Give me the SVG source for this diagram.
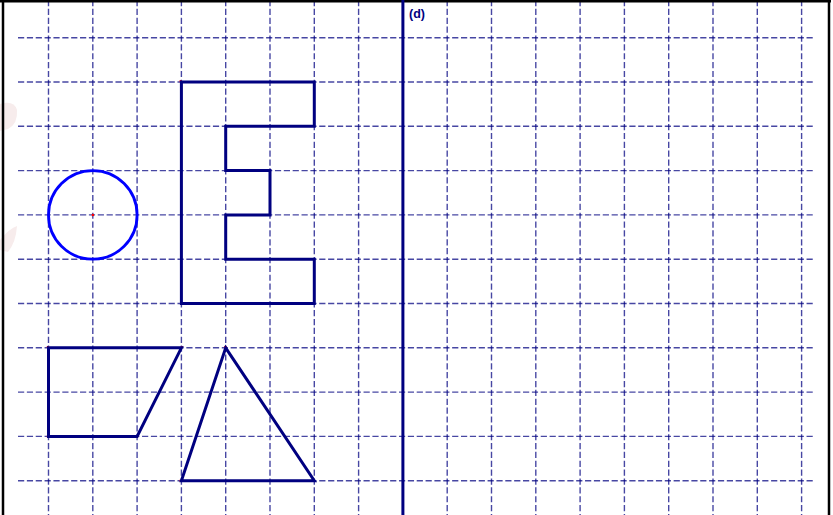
<svg xmlns="http://www.w3.org/2000/svg" width="833" height="515" viewBox="0 0 833 515">
<style>
.g{stroke:#000080;stroke-opacity:0.72;stroke-width:1.4;stroke-dasharray:6.2 2.66;fill:none}
.s{stroke:#000080;stroke-width:3;fill:none;stroke-linejoin:miter}
.frame{stroke:#000;stroke-width:2.5;fill:none}
.pt{fill:#ff0000}
</style>
<rect width="833" height="515" fill="#fff"/>
<g id="watermark" fill="#f7ecec">
<path d="M0 104 Q14 100 17 110 Q18 124 8 129 L0 131 Z"/>
<path d="M0 250 L0 240 Q10 228 17 226 Q16 242 8 252 Z"/>
</g>
<g id="grid">
<g class="g">
<path d="M48.5 0V515M92.8 0V515M137.1 0V515M181.4 0V515M225.7 0V515M270 0V515M314.3 0V515M358.6 0V515M447.2 0V515M491.5 0V515M535.8 0V515M580.1 0V515M624.4 0V515M668.7 0V515M713 0V515M757.3 0V515M801.6 0V515"/>
<path d="M18 37.7H813M18 82H813M18 126.3H813M18 170.6H813M18 214.9H813M18 259.2H813M18 303.5H813M18 347.8H813M18 392.1H813M18 436.4H813M18 480.7H813"/>
</g>
</g>
<g id="frame" class="frame">
<path d="M0 1.2H831"/>
<path d="M3 1V515"/>
<path d="M829 1V515"/>
</g>
<g id="axis">
<path d="M402.9 0V515" stroke="#000080" stroke-width="3"/>
<text x="409" y="17.5" font-family="Liberation Sans, Arial, sans-serif" font-size="12.5" font-weight="bold" fill="#000080">(d)</text>
</g>
<g id="points">
<rect class="pt" x="91.8" y="213.9" width="2.2" height="2.2"/>
<rect class="pt" x="179.6" y="80.2" width="2" height="2"/>
<rect class="pt" x="46.8" y="346" width="2" height="2"/>
<rect class="pt" x="180.8" y="346" width="2" height="2"/>
<rect class="pt" x="46.8" y="435.4" width="2" height="2"/>
<rect class="pt" x="136.2" y="435.4" width="2" height="2"/>
<rect class="pt" x="224.2" y="346" width="2.6" height="2"/>
<rect class="pt" x="179.6" y="479.7" width="2" height="2"/>
</g>
<g id="circle">
<circle cx="92.8" cy="214.9" r="44.3" fill="none" stroke="#0000ff" stroke-width="2.8"/>
</g>
<g id="shape-E">
<path class="s" d="M181.4 82H314.3V126.3H225.7V170.6H270V214.9H225.7V259.2H314.3V303.5H181.4Z"/>
</g>
<g id="parallelogram">
<path class="s" d="M48.5 347.8H181.4L137.1 436.4H48.5Z"/>
</g>
<g id="triangle">
<path class="s" d="M225.7 347.8L314.3 480.7H181.4Z"/>
</g>
<g id="connectors"/>
</svg>
